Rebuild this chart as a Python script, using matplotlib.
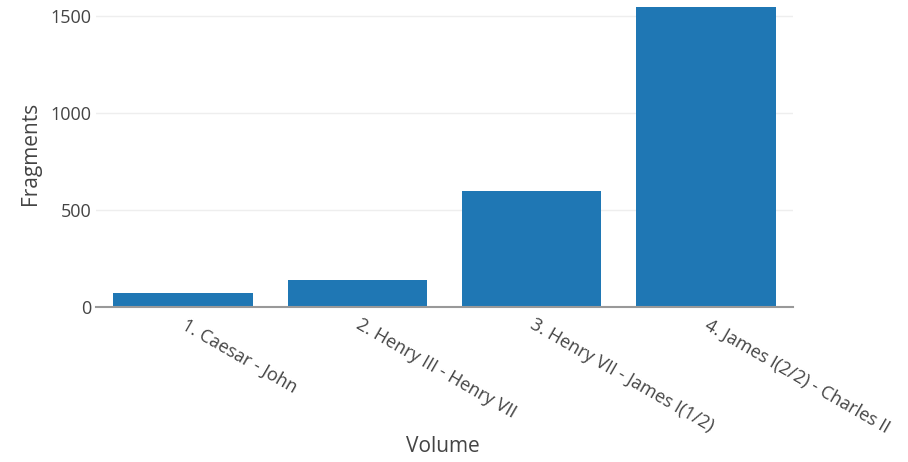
import matplotlib
matplotlib.use('Agg')
import matplotlib.pyplot as plt

volumes = ['1. Caesar - John', '2. Henry III - Henry VII',
           '3. Henry VII - James I(1/2)', '4. James I(2/2) - Charles II']
fragments = [71, 139, 598, 1545]

def main():
    plt.rcParams['font.family'] = ['Open Sans', 'DejaVu Sans']
    fig = plt.figure(figsize=(9.08, 4.62), dpi=100)
    ax = fig.add_axes([96 / 908, 1 - 307 / 462, 697 / 908, 307 / 462])

    x = list(range(len(volumes)))
    ax.bar(x, fragments, width=0.8, color='#1f77b4', zorder=2)

    ax.set_xlim(-0.5, len(volumes) - 0.5)
    ax.set_ylim(0, 307 / 97 * 500)
    ax.set_yticks([0, 500, 1000, 1500])
    ax.set_yticklabels(['0', '500', '1000', '1500'])
    ax.yaxis.grid(True, color='#eeeeee', linewidth=1, zorder=0)
    ax.axhline(0, color='#999999', linewidth=1.5, zorder=3, clip_on=False)

    ax.set_xticks(x)
    ax.set_xticklabels(volumes, rotation=-30, ha='left', va='center',
                       rotation_mode='anchor')
    ax.tick_params(axis='both', length=0, labelsize=13, labelcolor='#444444')
    ax.tick_params(axis='x', pad=12)
    ax.tick_params(axis='y', pad=3)

    for s in ax.spines.values():
        s.set_visible(False)

    ax.set_ylabel('Fragments', fontsize=15, color='#444444', labelpad=7)
    fig.text(443 / 908, 1 - 446 / 462, 'Volume', fontsize=15, color='#444444',
             ha='center', va='center')

    plt.savefig('out.png', dpi=100)

if __name__ == "__main__":
    main()
